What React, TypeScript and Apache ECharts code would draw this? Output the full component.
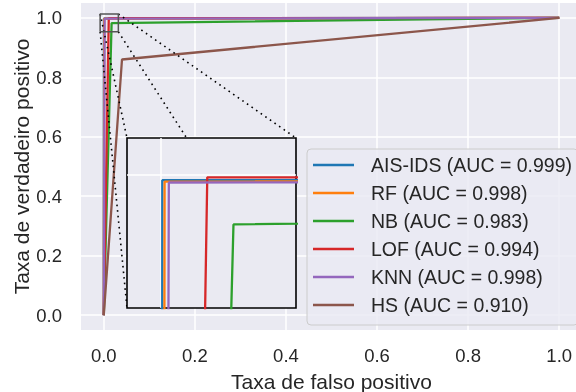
import React, { useEffect, useRef } from "react";
import * as echarts from "echarts";

const NAMES = ["AIS-IDS", "RF", "NB", "LOF", "KNN", "HS"];
const AUCS = ["0.999", "0.998", "0.983", "0.994", "0.998", "0.910"];
const COLORS = ["#1f77b4", "#ff7f0e", "#2ca02c", "#d62728", "#9467bd", "#8c564b"];
// ROC points (fpr, tpr) for each model
const FPR = [
  [0, 0.00035, 1],
  [0, 0.0009, 1],
  [0, 0.0172, 1],
  [0, 0.011, 1],
  [0, 0.0019, 1],
  [0, 0.04, 1],
];
const TPR = [
  [0, 0.9981, 1],
  [0, 0.9976, 1],
  [0, 0.9825, 1],
  [0, 0.9991, 1],
  [0, 0.9973, 1],
  [0, 0.86, 1],
];
const TICKS = [0, 0.2, 0.4, 0.6, 0.8, 1.0];
const ZOOM_X = [-0.008, 0.032];
const ZOOM_Y = [0.953, 1.013];
const INSET_X_TICKS = [0];
const INSET_Y_TICKS = [1];

const MAIN = { left: 81, top: 3, width: 501, height: 327 };
const INSET = { left: 127, top: 138, width: 169, height: 170 };
const FONT = "Liberation Sans, Arial, Helvetica, sans-serif";
const TXT = "#262626";
const BG = "#EAEAF2";

export default function App() {
  const ref = useRef<HTMLDivElement>(null);
  useEffect(() => {
    if (!ref.current) return;
    const chart = echarts.init(ref.current, undefined, { renderer: "svg" });
    const curves = NAMES.map((n, i) => FPR[i].map((x, j) => [x, TPR[i][j]]));
    const legendNames = NAMES.map((n, i) => `${n} (AUC = ${AUCS[i]})`);

    const mainSeries = curves.map((d, i) => ({
      type: "line",
      name: legendNames[i],
      data: d,
      xAxisIndex: 0,
      yAxisIndex: 0,
      symbol: "none",
      color: COLORS[i],
      lineStyle: { color: COLORS[i], width: 2.3 },
      z: 2,
      silent: true,
    }));
    const insetSeries = curves.map((d, i) => ({
      type: "line",
      name: legendNames[i],
      data: d,
      xAxisIndex: 1,
      yAxisIndex: 1,
      symbol: "none",
      color: COLORS[i],
      lineStyle: { color: COLORS[i], width: 2.3 },
      clip: true,
      z: 6,
      silent: true,
    }));
    const box = [
      [ZOOM_X[0], ZOOM_Y[0]],
      [ZOOM_X[1], ZOOM_Y[0]],
      [ZOOM_X[1], ZOOM_Y[1]],
      [ZOOM_X[0], ZOOM_Y[1]],
      [ZOOM_X[0], ZOOM_Y[0]],
    ];
    // connectors: rect corner (data) -> inset corner flags (cx, cy): cx 0=left 1=right, cy 0=bottom 1=top
    const connectors = [
      [ZOOM_X[0], ZOOM_Y[1], 0, 1],
      [ZOOM_X[1], ZOOM_Y[1], 1, 1],
      [ZOOM_X[0], ZOOM_Y[0], 0, 0],
      [ZOOM_X[1], ZOOM_Y[0], 1, 0],
    ];

    const axisLabelStyle = { color: TXT, fontSize: 18.5, fontFamily: FONT };
    chart.setOption({
      animation: false,
      textStyle: { fontFamily: FONT },
      grid: [
        { ...MAIN, show: true, backgroundColor: BG, borderWidth: 0, containLabel: false, outerBoundsMode: "none", z: 0 },
        { ...INSET, show: true, backgroundColor: BG, borderColor: "#000", borderWidth: 1.6, containLabel: false, outerBoundsMode: "none", z: 4 },
      ],
      xAxis: [
        {
          type: "value",
          gridIndex: 0,
          min: -0.05,
          max: 1.05,
          axisLine: { show: false },
          axisTick: { show: false, customValues: TICKS },
          axisLabel: { ...axisLabelStyle, customValues: TICKS, margin: 16, formatter: (v: number) => v.toFixed(1) },
          splitLine: { show: true, lineStyle: { color: "#fff", width: 1.5 } },
          name: "Taxa de falso positivo",
          nameLocation: "middle",
          nameGap: 41,
          nameMoveOverlap: false,
          nameTextStyle: { color: TXT, fontSize: 21, fontFamily: FONT },
          z: 0,
        },
        {
          type: "value",
          gridIndex: 1,
          min: ZOOM_X[0],
          max: ZOOM_X[1],
          axisLine: { show: false },
          axisTick: { show: false, customValues: INSET_X_TICKS },
          axisLabel: { show: false, customValues: INSET_X_TICKS },
          splitLine: { show: true, lineStyle: { color: "#fff", width: 1.5 } },
          z: 5,
        },
      ],
      yAxis: [
        {
          type: "value",
          gridIndex: 0,
          min: -0.05,
          max: 1.05,
          axisLine: { show: false },
          axisTick: { show: false, customValues: TICKS },
          axisLabel: { ...axisLabelStyle, customValues: TICKS, margin: 19, formatter: (v: number) => v.toFixed(1) },
          splitLine: { show: true, lineStyle: { color: "#fff", width: 1.5 } },
          name: "Taxa de verdadeiro positivo",
          nameLocation: "middle",
          nameGap: 49,
          nameMoveOverlap: false,
          nameTextStyle: { color: TXT, fontSize: 21, fontFamily: FONT },
          z: 0,
        },
        {
          type: "value",
          gridIndex: 1,
          min: ZOOM_Y[0],
          max: ZOOM_Y[1],
          axisLine: { show: false },
          axisTick: { show: false, customValues: INSET_Y_TICKS },
          axisLabel: { show: false, customValues: INSET_Y_TICKS },
          splitLine: { show: true, lineStyle: { color: "#fff", width: 1.5 } },
          z: 5,
        },
      ],
      legend: {
        data: legendNames,
        orient: "vertical",
        left: 307,
        top: 149,
        icon: "rect",
        itemWidth: 41,
        itemHeight: 2.4,
        itemGap: 8,
        padding: [6, 6, 10, 6],
        backgroundColor: "rgba(234,234,242,0.8)",
        borderColor: "#cccccc",
        borderWidth: 1,
        borderRadius: 4,
        selectedMode: false,
        textStyle: { color: TXT, fontSize: 19.5, fontFamily: FONT, lineHeight: 20, padding: [0, 0, 0, 12] },
        z: 8,
      },
      series: [
        ...mainSeries,
        {
          type: "line",
          name: "zoom-box",
          data: box,
          xAxisIndex: 0,
          yAxisIndex: 0,
          symbol: "none",
          lineStyle: { color: "#555", width: 1.5 },
          z: 3,
          silent: true,
        },
        {
          type: "custom",
          name: "connectors",
          xAxisIndex: 0,
          yAxisIndex: 0,
          data: connectors,
          encode: { x: 0, y: 1 },
          z: 3,
          silent: true,
          renderItem: (params: any, api: any) => {
            const p = api.coord([api.value(0), api.value(1)]);
            const cx = INSET.left + api.value(2) * INSET.width;
            const cy = INSET.top + (1 - api.value(3)) * INSET.height;
            return {
              type: "line",
              shape: { x1: p[0], y1: p[1], x2: cx, y2: cy },
              style: { stroke: "#000", lineWidth: 1.6, lineDash: [1.6, 4] },
            };
          },
        },
        ...insetSeries,
      ],
    });
    return () => chart.dispose();
  }, []);
  return <div ref={ref} style={{ position: "fixed", left: 0, top: 0, width: 576, height: 392 }} />;
}
